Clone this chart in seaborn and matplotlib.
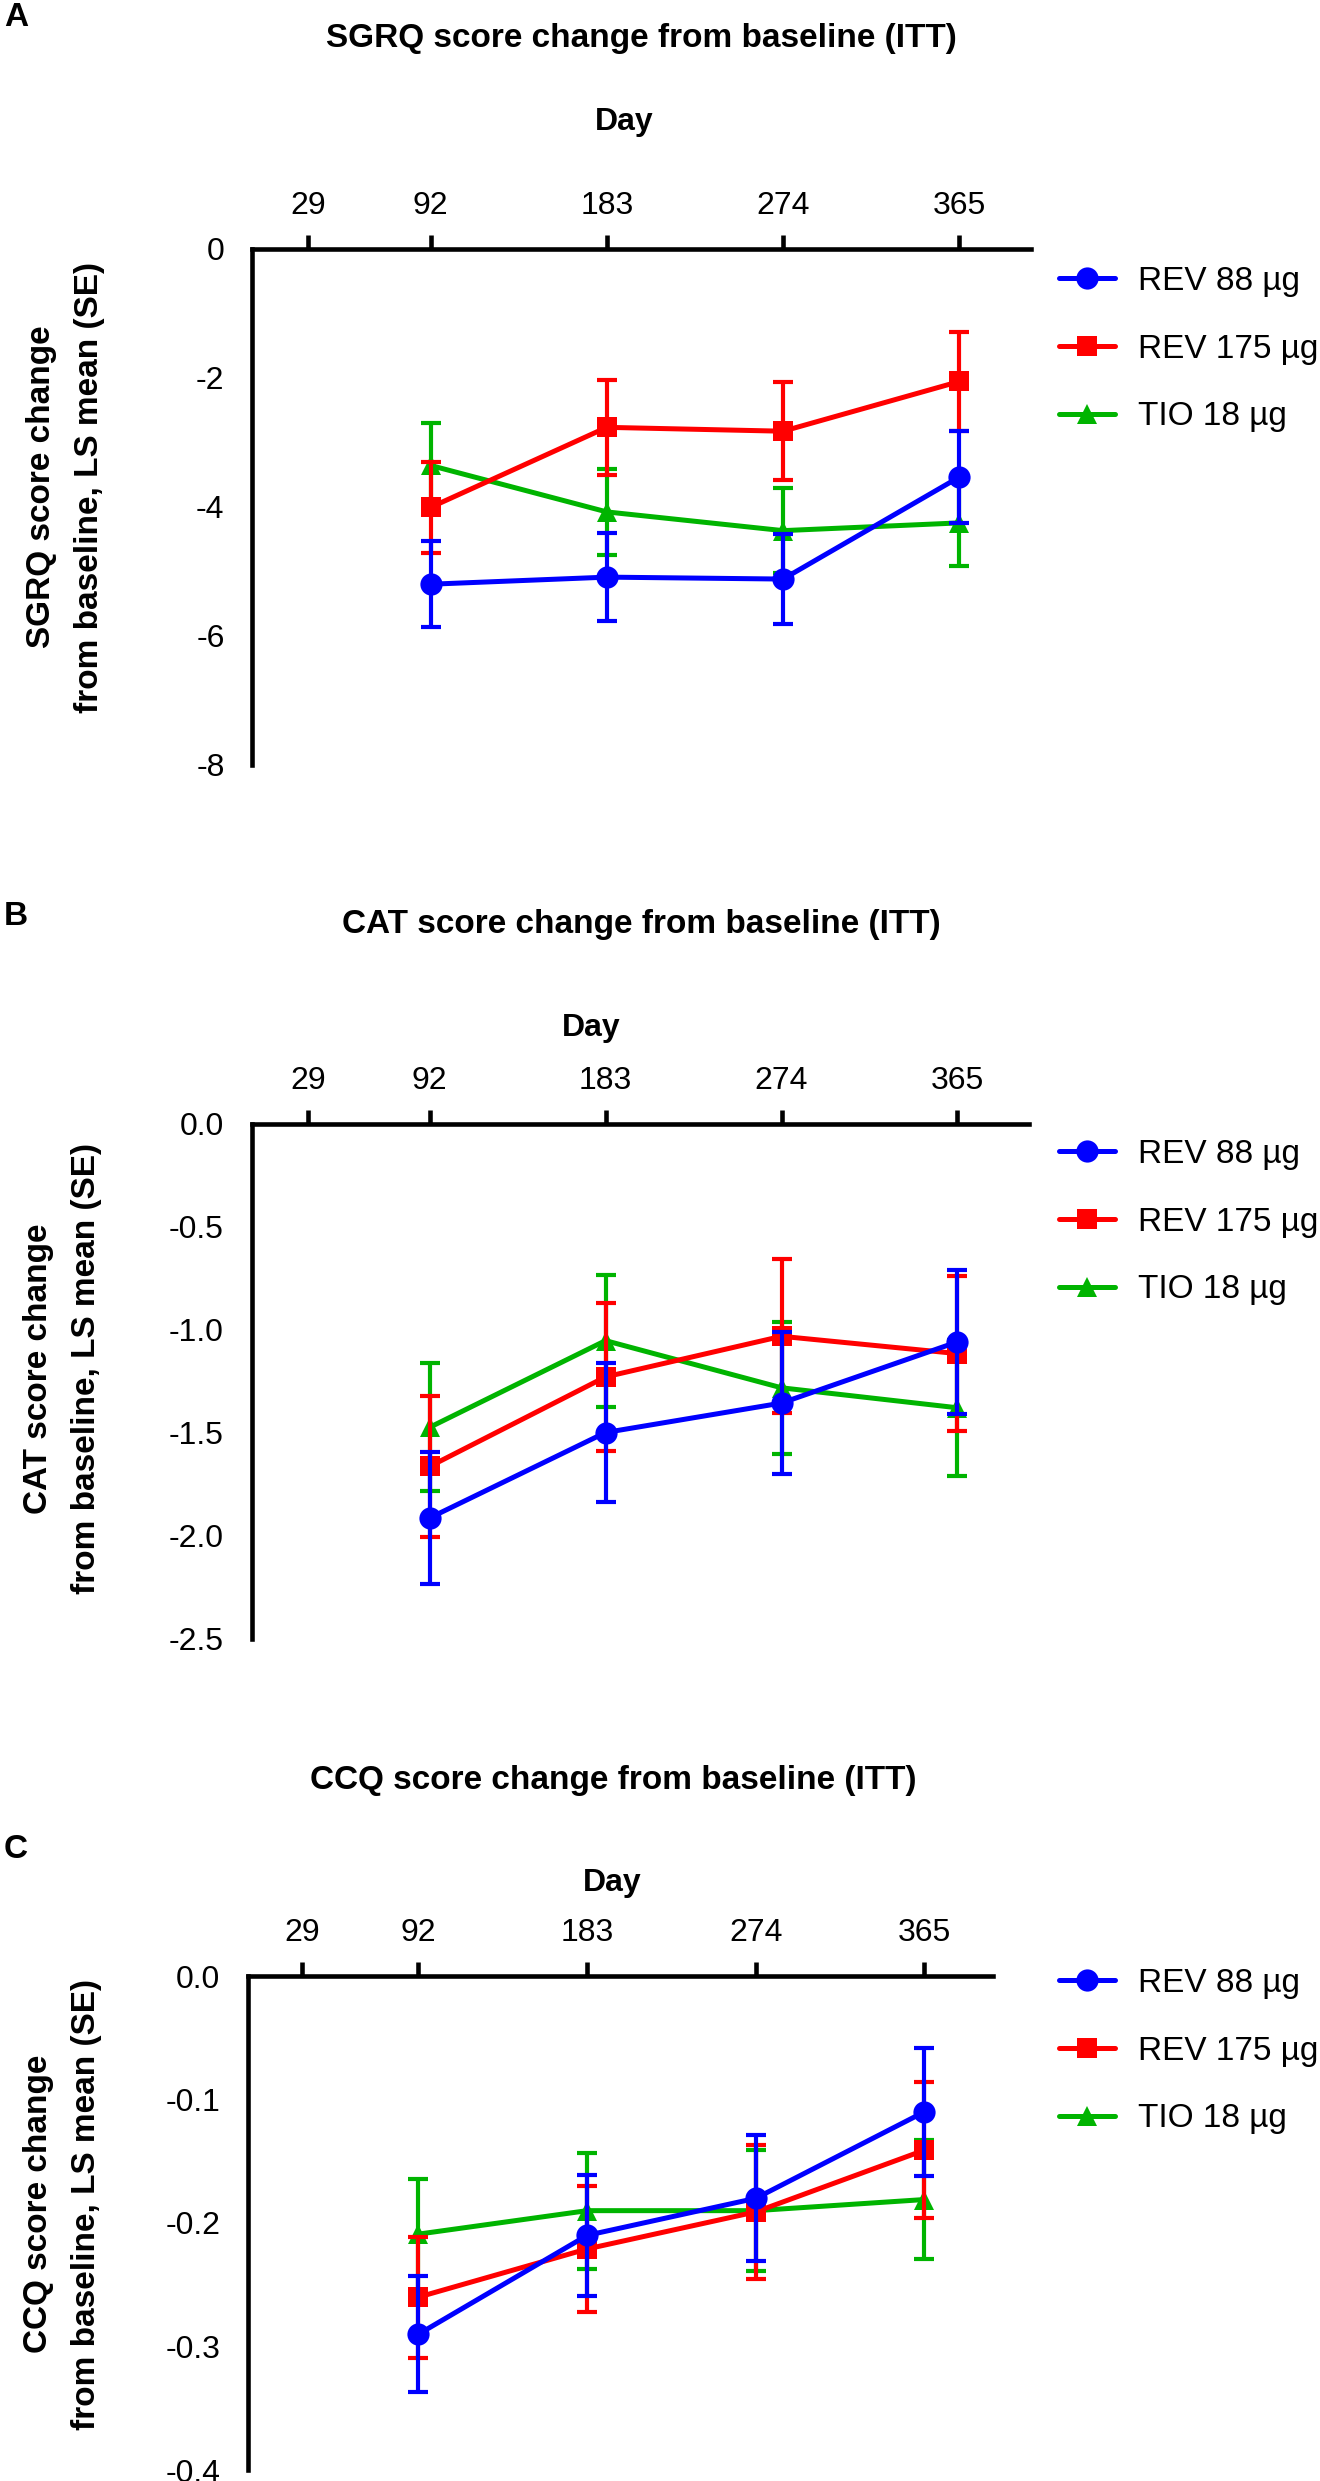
import matplotlib
matplotlib.use("Agg")
import matplotlib.pyplot as plt
from matplotlib.ticker import StrMethodFormatter
import seaborn as sns
import pandas as pd

# visit days and group names
days = [92, 183, 274, 365]
day_ticks = [29, 92, 183, 274, 365]
groups = ["REV 88 µg", "REV 175 µg", "TIO 18 µg"]
colors = ["#0000ff", "#ff0000", "#00b400"]
markers = ["o", "s", "^"]

# SGRQ: LS mean change and SE
sgrq_rev88 = [-5.20, -5.09, -5.12, -3.54]
sgrq_rev88_se = [0.67, 0.68, 0.70, 0.71]
sgrq_rev175 = [-4.01, -2.77, -2.83, -2.06]
sgrq_rev175_se = [0.70, 0.74, 0.76, 0.77]
sgrq_tio = [-3.36, -4.08, -4.37, -4.25]
sgrq_tio_se = [0.65, 0.67, 0.66, 0.66]

# CAT
cat_rev88 = [-1.915, -1.50, -1.357, -1.06]
cat_rev88_se = [0.32, 0.336, 0.343, 0.349]
cat_rev175 = [-1.665, -1.23, -1.033, -1.117]
cat_rev175_se = [0.34, 0.36, 0.374, 0.378]
cat_tio = [-1.475, -1.054, -1.283, -1.38]
cat_tio_se = [0.31, 0.32, 0.32, 0.33]

# CCQ
ccq_rev88 = [-0.290, -0.210, -0.180, -0.110]
ccq_rev88_se = [0.047, 0.049, 0.051, 0.052]
ccq_rev175 = [-0.260, -0.221, -0.191, -0.141]
ccq_rev175_se = [0.049, 0.051, 0.054, 0.055]
ccq_tio = [-0.209, -0.190, -0.190, -0.181]
ccq_tio_se = [0.045, 0.047, 0.049, 0.048]

sns.set_theme(style="white")
plt.rcParams["font.family"] = ["Liberation Sans", "DejaVu Sans"]
plt.rcParams["axes.unicode_minus"] = False
plt.rcParams["text.color"] = "black"
plt.rcParams["axes.labelcolor"] = "black"

W, H = 1320, 2481
fig = plt.figure(figsize=(W / 100, H / 100), dpi=100)


def fx(px):
    return px / W


def fy(py):
    return 1 - py / H


panels = [
    dict(letter="A", title="SGRQ score change from baseline (ITT)", name="SGRQ",
         means=[sgrq_rev88, sgrq_rev175, sgrq_tio],
         ses=[sgrq_rev88_se, sgrq_rev175_se, sgrq_tio_se],
         ylim=(-8, 0), yticks=[0, -2, -4, -6, -8], fmt="{x:.0f}",
         box=(252.3, 248.5, 1031, 765), letter_xy=(16, 17), title_xy=(641, 38),
         day_xy=(624, 122), leg_top=266, ylab=(-0.189, 0.538)),
    dict(letter="B", title="CAT score change from baseline (ITT)", name="CAT",
         means=[cat_rev88, cat_rev175, cat_tio],
         ses=[cat_rev88_se, cat_rev175_se, cat_tio_se],
         ylim=(-2.5, 0), yticks=[0, -0.5, -1.0, -1.5, -2.0, -2.5], fmt="{x:.1f}",
         box=(251.7, 1123.5, 1029, 1638.5), letter_xy=(16, 917), title_xy=(641, 925),
         day_xy=(591, 1028), leg_top=1139, ylab=(-0.193, 0.524)),
    dict(letter="C", title="CCQ score change from baseline (ITT)", name="CCQ",
         means=[ccq_rev88, ccq_rev175, ccq_tio],
         ses=[ccq_rev88_se, ccq_rev175_se, ccq_tio_se],
         ylim=(-0.4, 0), yticks=[0, -0.1, -0.2, -0.3, -0.4], fmt="{x:.1f}",
         box=(248, 1976, 993, 2470), letter_xy=(16, 1850), title_xy=(613, 1780),
         day_xy=(612, 1883), leg_top=1968, ylab=(-0.196, 0.538)),
]

for p in panels:
    x0, y0, x1, y1 = p["box"]
    ax = fig.add_axes([fx(x0), fy(y1), fx(x1 - x0), (y1 - y0) / H])

    rows = []
    for g, m, s in zip(groups, p["means"], p["ses"]):
        for d, v, e in zip(days, m, s):
            rows.append({"day": d, "value": v, "se": e, "group": g})
    df = pd.DataFrame(rows)

    handles = {}
    # TIO underneath, REV 88 on top
    for g, c, mk in reversed(list(zip(groups, colors, markers))):
        sub = df[df["group"] == g]
        ax.errorbar(sub["day"], sub["value"], yerr=sub["se"], fmt="none",
                    ecolor=c, elinewidth=3, capsize=7.5, capthick=3)
        sns.lineplot(data=sub, x="day", y="value", color=c, marker=mk,
                     markersize=16 if mk == "o" else 15, markeredgewidth=0,
                     markeredgecolor=c, linewidth=3.6, errorbar=None,
                     label=g, legend=False, ax=ax)
        handles[g] = ax.lines[-1]

    ax.set_xlim(0, 402)
    ax.set_ylim(*p["ylim"])
    ax.set_xticks(day_ticks)
    ax.set_yticks(p["yticks"])
    ax.yaxis.set_major_formatter(StrMethodFormatter(p["fmt"]))
    ax.set_xlabel("")
    ax.xaxis.tick_top()
    for side in ["right", "bottom"]:
        ax.spines[side].set_visible(False)
    for side in ["top", "left"]:
        ax.spines[side].set_linewidth(3.3)
        ax.spines[side].set_color("black")
    ax.tick_params(axis="both", direction="out", length=10, width=3.3,
                   labelsize=23, pad=10, colors="black")

    ax.set_ylabel(p["name"] + " score change\nfrom baseline, LS mean (SE)",
                  fontsize=24, fontweight="bold", linespacing=1.7, color="black")
    ax.yaxis.set_label_coords(*p["ylab"])

    fig.text(fx(p["title_xy"][0]), fy(p["title_xy"][1]), p["title"],
             fontsize=24, fontweight="bold", ha="center", va="center")
    fig.text(fx(p["day_xy"][0]), fy(p["day_xy"][1]), "Day",
             fontsize=23, fontweight="bold", ha="center", va="center")
    fig.text(fx(p["letter_xy"][0]), fy(p["letter_xy"][1]), p["letter"],
             fontsize=24, fontweight="bold", ha="center", va="center")

    leg = ax.legend([handles[g] for g in groups], groups, loc="upper left",
                    bbox_to_anchor=(fx(1059), fy(p["leg_top"])),
                    bbox_transform=fig.transFigure, frameon=False, fontsize=24,
                    borderpad=0, borderaxespad=0, handlelength=1.67,
                    handletextpad=0.7, labelspacing=1.1, numpoints=1)
    for t in leg.get_texts():
        t.set_color("black")

fig.savefig("out.png", dpi=100)
